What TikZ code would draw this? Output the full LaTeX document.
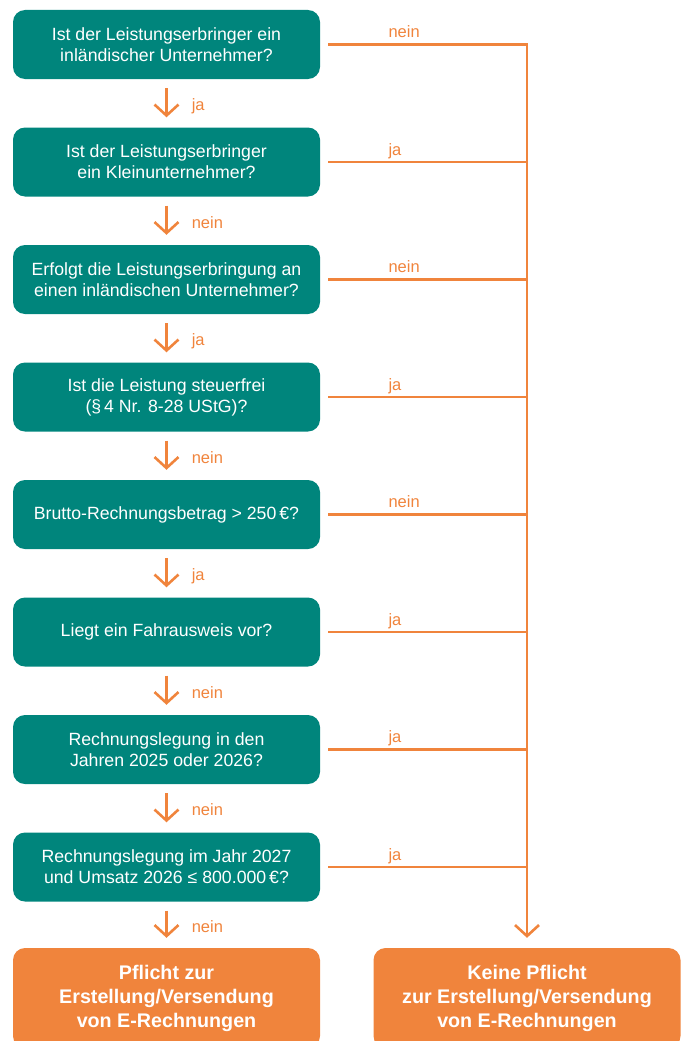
\documentclass[tikz,border=0pt]{standalone}
\usepackage{fontspec}
\setmainfont{Liberation Sans}
\usetikzlibrary{arrows.meta}
\definecolor{petrol}{RGB}{0,133,124}
\definecolor{signal}{RGB}{240,132,60}
\tikzset{
  frage/.style={fill=petrol, text=white, rounded corners=12pt, minimum width=307pt, minimum height=69pt, inner sep=0pt, align=center, font=\fontsize{17.7}{21}\selectfont},
  ergebnis/.style={fill=signal, text=white, rounded corners=12pt, minimum width=307pt, minimum height=100pt, inner sep=0pt, align=center, font=\bfseries\fontsize{19.7}{24}\selectfont},
  linie/.style={draw=signal, line width=2.6pt},
  pfeil/.style={linie, -{Straight Barb[length=11pt,width=24pt,line width=2.6pt]}},
  marke/.style={text=signal, inner sep=0pt, anchor=base west, font=\fontsize{16.5}{18}\selectfont}
}
\begin{document}
\begin{tikzpicture}[x=1pt,y=-1pt]
\useasboundingbox (0,0) rectangle (684,1041);
\clip (0,0) rectangle (684,1041);

\node[frage] (q1) at (166.5,44.5) {Ist der Leistungserbringer ein\\inländischer Unternehmer?};
\node[frage] (q2) at (166.5,162) {Ist der Leistungserbringer\\ein Kleinunternehmer?};
\node[frage] (q3) at (166.5,279.5) {Erfolgt die Leistungserbringung an\\einen inländischen Unternehmer?};
\node[frage] (q4) at (166.5,397) {Ist die Leistung steuerfrei\\(§\,4 Nr. 8-28 UStG)?};
\node[frage] (q5) at (166.5,514.5) {Brutto-Rechnungsbetrag > 250\,€?};
\node[frage] (q6) at (166.5,632) {Liegt ein Fahrausweis vor?};
\node[frage] (q7) at (166.5,749.5) {Rechnungslegung in den\\Jahren 2025 oder 2026?};
\node[frage] (q8) at (166.5,867) {Rechnungslegung im Jahr 2027\\und Umsatz 2026 ≤ 800.000\,€?};
\node[ergebnis] (pflicht) at (166.5,998) {Pflicht zur\\Erstellung/Versendung\\von E-Rechnungen};
\node[ergebnis] (keine) at (527,998) {Keine Pflicht\\zur Erstellung/Versendung\\von E-Rechnungen};

\coordinate (rechts) at (527,44.5);

\draw[pfeil, shorten <=9pt, shorten >=10pt] (q1) -- (q2) node[marke, midway, xshift=24pt, yshift=-7.5pt] {ja};
\draw[pfeil, shorten <=9pt, shorten >=10pt] (q2) -- (q3) node[marke, midway, xshift=24pt, yshift=-7.5pt] {nein};
\draw[pfeil, shorten <=9pt, shorten >=10pt] (q3) -- (q4) node[marke, midway, xshift=24pt, yshift=-7.5pt] {ja};
\draw[pfeil, shorten <=9pt, shorten >=10pt] (q4) -- (q5) node[marke, midway, xshift=24pt, yshift=-7.5pt] {nein};
\draw[pfeil, shorten <=9pt, shorten >=10pt] (q5) -- (q6) node[marke, midway, xshift=24pt, yshift=-7.5pt] {ja};
\draw[pfeil, shorten <=9pt, shorten >=10pt] (q6) -- (q7) node[marke, midway, xshift=24pt, yshift=-7.5pt] {nein};
\draw[pfeil, shorten <=9pt, shorten >=10pt] (q7) -- (q8) node[marke, midway, xshift=24pt, yshift=-7.5pt] {nein};
\draw[pfeil, shorten <=9pt, shorten >=10pt] (q8) -- (pflicht) node[marke, midway, xshift=24pt, yshift=-7.5pt] {nein};

\draw[linie, shorten <=8pt] (q1.east) -- (q1.east -| rechts) node[marke, pos=0.324, yshift=7pt] {nein};
\draw[linie, shorten <=8pt] (q2.east) -- (q2.east -| rechts) node[marke, pos=0.324, yshift=7pt] {ja};
\draw[linie, shorten <=8pt] (q3.east) -- (q3.east -| rechts) node[marke, pos=0.324, yshift=7pt] {nein};
\draw[linie, shorten <=8pt] (q4.east) -- (q4.east -| rechts) node[marke, pos=0.324, yshift=7pt] {ja};
\draw[linie, shorten <=8pt] (q5.east) -- (q5.east -| rechts) node[marke, pos=0.324, yshift=7pt] {nein};
\draw[linie, shorten <=8pt] (q6.east) -- (q6.east -| rechts) node[marke, pos=0.324, yshift=7pt] {ja};
\draw[linie, shorten <=8pt] (q7.east) -- (q7.east -| rechts) node[marke, pos=0.324, yshift=7pt] {ja};
\draw[linie, shorten <=8pt] (q8.east) -- (q8.east -| rechts) node[marke, pos=0.324, yshift=7pt] {ja};
\draw[pfeil, shorten >=10pt, line cap=rect] (rechts) -- (keine);
\end{tikzpicture}
\end{document}
